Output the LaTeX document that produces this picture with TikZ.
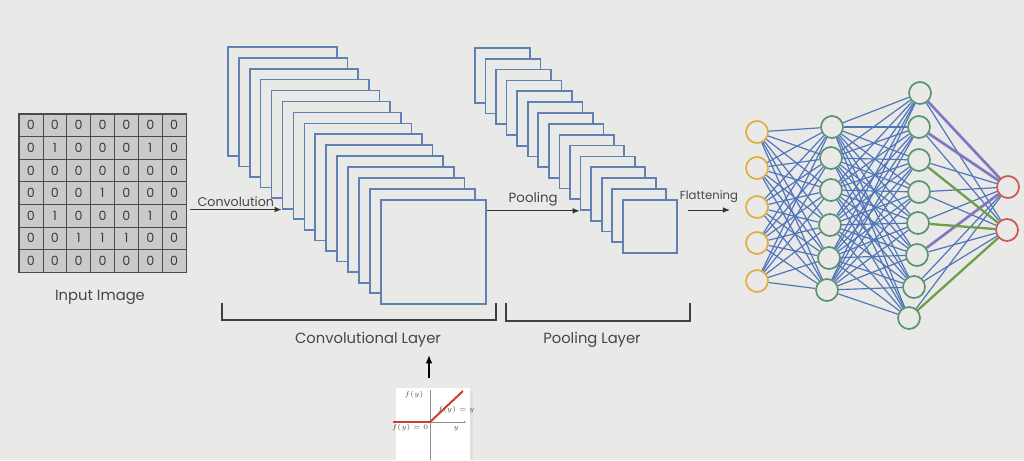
\documentclass[tikz,border=0pt]{standalone}
\usepackage{fontspec}
\setmainfont{Poppins}
\usetikzlibrary{arrows.meta,positioning}
\definecolor{bgcol}{RGB}{233,233,231}
\definecolor{cellgray}{RGB}{202,202,202}
\definecolor{gridline}{RGB}{75,75,75}
\definecolor{digit}{RGB}{60,60,60}
\definecolor{labgray}{RGB}{70,70,70}
\definecolor{mapblue}{RGB}{95,128,178}
\definecolor{wireblue}{RGB}{80,118,185}
\definecolor{inorange}{RGB}{228,172,62}
\definecolor{hidgreen}{RGB}{88,148,110}
\definecolor{outred}{RGB}{208,82,82}
\definecolor{purp}{RGB}{128,112,190}
\definecolor{leaf}{RGB}{108,160,72}
\definecolor{relured}{RGB}{205,60,50}
\begin{document}
\begin{tikzpicture}[x=0.025cm,y=-0.025cm,
  cell/.style={draw=gridline,fill=cellgray,minimum width=0.5964cm,minimum height=0.564cm,
    inner sep=0pt,font=\fontsize{9}{10}\selectfont,text=digit},
  fmap/.style={draw=mapblue,line width=1.2pt,fill=bgcol,inner sep=0pt,anchor=north west},
  lab/.style={font=\fontsize{10.5}{12}\selectfont,text=labgray},
  flowlab/.style={text=labgray,inner sep=2pt},
  flow/.style={draw=black!80,line width=0.7pt,-{Latex[length=5pt,width=4pt]}},
  bracket/.style={draw=black!75,line width=0.9pt},
  neuron/.style={circle,line width=1.2pt,fill=bgcol,minimum size=0.55cm,inner sep=0pt},
  wire/.style={draw=wireblue,line width=0.85pt},
]
\fill[bgcol] (0,0) rectangle (1024,460);
\useasboundingbox (0,0) rectangle (1024,460);
\clip (0,0) rectangle (1024,460);

\foreach \row [count=\r] in {{0,0,0,0,0,0,0},{0,1,0,0,0,1,0},{0,0,0,0,0,0,0},{0,0,0,1,0,0,0},{0,1,0,0,0,1,0},{0,0,1,1,1,0,0},{0,0,0,0,0,0,0}}
  \foreach \v [count=\c] in \row
    \node[cell] (g-\r-\c) at ({19+(\c-0.5)*23.86},{114+(\r-0.5)*22.57}) {\v};
\draw[gridline,line width=1pt] (g-1-1.north west) rectangle (g-7-7.south east);
\node[lab] (inlab) at (100,297) {Input Image};

\foreach \i in {1,...,15} {
  \pgfmathsetmacro{\w}{(109-(\i-1)*4/14)*0.025}
  \pgfmathsetmacro{\h}{(109-(\i-1)*5/14)*0.025}
  \node[fmap,minimum width=\w cm,minimum height=\h cm] (c\i) at ({227+(\i-1)*10.93},{46+(\i-1)*10.93}) {};
}
\foreach \i in {1,...,15} {
  \pgfmathsetmacro{\w}{(55-(\i-1)/14)*0.025}
  \pgfmathsetmacro{\h}{(55-(\i-1)*2/14)*0.025}
  \node[fmap,minimum width=\w cm,minimum height=\h cm] (p\i) at ({474+(\i-1)*10.57},{47+(\i-1)*10.86}) {};
}

\coordinate (convin) at (190,207);
\draw[flow] (convin |- c6.south west) -- node[above,flowlab,font=\fontsize{9}{10}\selectfont] {Convolution} (c6.south west);
\draw[flow] (c15.east |- p11.south west) -- node[above,flowlab,font=\fontsize{9.5}{10}\selectfont,inner sep=3pt] {Pooling} (p11.south west);
\coordinate (flatin) at (688,210);
\coordinate (flatout) at (730,210);
\draw[flow] (flatin) -- node[above,flowlab,font=\fontsize{8.3}{9}\selectfont,inner sep=5pt] {Flattening} (flatout);

\draw[bracket] (222,303) -- (222,320) -- (496,320) -- (496,303);
\draw[bracket] (506,303) -- (506,321) -- (690,321) -- (690,303);
\node[lab] (convlab) at (368,340) {Convolutional Layer};
\node[lab] (poollab) at (592,340) {Pooling Layer};

\fill[black!12] (400,391) rectangle (473,460);
\node[fill=white,minimum width=1.825cm,minimum height=2.5cm,anchor=north,inner sep=0pt] (relu) at (433,388) {};
\coordinate (reluup) at (429,355);
\draw[line width=1.3pt,-{Latex[length=6pt,width=5pt]}] (reluup |- 0,378) -- (reluup);
\draw[black!45,line width=0.3pt] (430,460) -- (430,390);
\draw[black!45,line width=0.3pt,-{Latex[length=1.5pt,width=1.5pt]}] (400,422) -- (466,422);
\draw[relured,line width=1.4pt] (393,422) -- (430,422) -- (463,391);
\node[font=\fontsize{3}{3}\selectfont,text=black!70,inner sep=0pt] (fy) at (414,395) {$f(y)$};
\node[font=\fontsize{3}{3}\selectfont,text=black!70,inner sep=0pt] (fyy) at (456,410) {$f(y)=y$};
\node[font=\fontsize{3}{3}\selectfont,text=black!70,inner sep=0pt] (fy0) at (410,428) {$f(y)=0$};
\node[font=\fontsize{3}{3}\selectfont,text=black!70,inner sep=0pt] (yax) at (456,429) {$y$};

\foreach \y [count=\k] in {132,168,207,243,281}
  \node[neuron,draw=inorange] (i\k) at (757,\y) {};
\foreach \x/\y [count=\k] in {832/127,831/158,831/190,830/225,829/258,827/290}
  \node[neuron,draw=hidgreen] (h\k) at (\x,\y) {};
\foreach \x/\y [count=\k] in {920/93,919/127,919/160,919/192,918/223,917/255,914/287,909/318}
  \node[neuron,draw=hidgreen] (k\k) at (\x,\y) {};
\node[neuron,draw=outred] (o1) at (1008,187) {};
\node[neuron,draw=outred] (o2) at (1007,230) {};

\foreach \a in {1,...,5}
  \foreach \b in {1,...,6}
    \draw[wire] (i\a) -- (h\b);
\foreach \a in {1,...,6}
  \foreach \b in {1,...,8}
    \draw[wire] (h\a) -- (k\b);
\foreach \a in {1,...,8}
  \foreach \b in {1,2}
    \draw[wire] (k\a) -- (o\b);
\draw[purp,line width=2pt,opacity=0.8] (k1) -- (o1);
\draw[purp,line width=2pt,opacity=0.8] (k2) -- (o1);
\draw[purp,line width=2pt,opacity=0.8] (k6) -- (o1);
\draw[leaf,line width=1.6pt] (k3) -- (o2);
\draw[leaf,line width=1.6pt] (k5) -- (o2);
\draw[leaf,line width=1.6pt] (k8) -- (o2);
\end{tikzpicture}
\end{document}
